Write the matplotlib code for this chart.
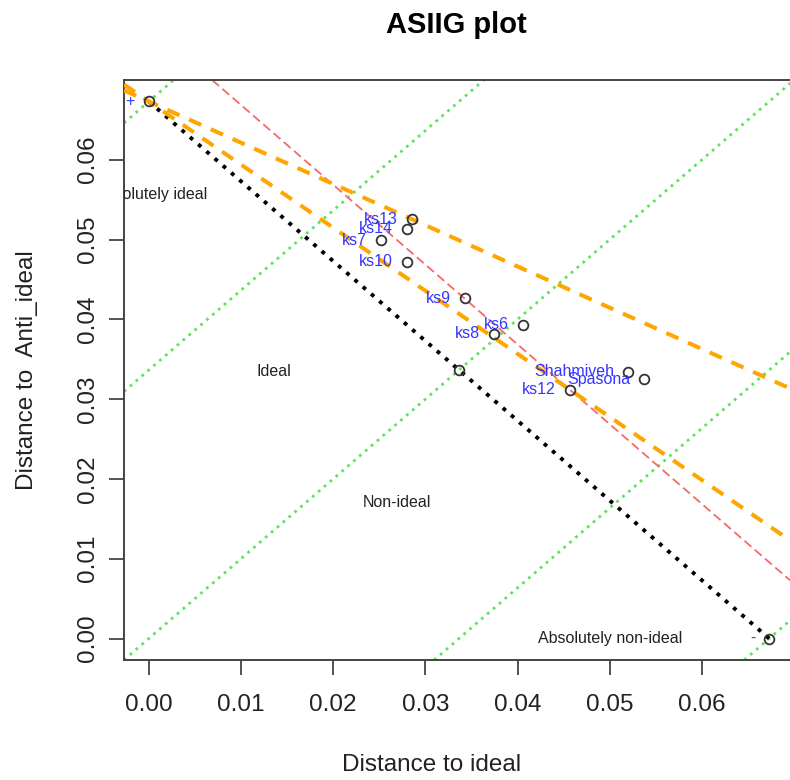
import matplotlib
matplotlib.use("Agg")
import matplotlib.pyplot as plt

plt.rcParams["font.family"] = ["Liberation Sans", "DejaVu Sans"]

# distance between the ideal and the anti-ideal point
full_dist = 0.0673

alternatives = ["ks13", "ks14", "ks7", "ks10", "ks9", "ks6", "ks8", "Shahmiveh", "Spasona", "ks12"]
dist_ideal = [0.02850, 0.02796, 0.02519, 0.02801, 0.03431, 0.04061, 0.03746, 0.05195, 0.05375, 0.04566]
dist_anti = [0.05257, 0.05132, 0.04994, 0.04724, 0.04267, 0.03929, 0.03822, 0.03340, 0.03252, 0.03120]

# reference points: ideal (+), anti-ideal (-) and the centre of the diagonal
ref_labels = ["+", "-", ""]
ref_x = [0.0, full_dist, full_dist / 2]
ref_y = [full_dist, 0.0, full_dist / 2]

region_labels = ["Absolutely ideal", "Ideal", "Non-ideal", "Absolutely non-ideal"]
region_x = [0.0003, 0.01357, 0.02693, 0.05005]
region_y = [0.0557, 0.0334, 0.0171, 0.0]

# green iso lines y = x + k * full_dist / 2
green_steps = [-2, -1, 0, 1, 2]

ticks = [0.00, 0.01, 0.02, 0.03, 0.04, 0.05, 0.06]

W, H = 790, 780
fig = plt.figure(figsize=(W / 100, H / 100), dpi=100)
ax = fig.add_axes([124 / W, 1 - 660 / H, 670 / W, 580 / H])

pad = 0.04 * full_dist
ax.set_xlim(-pad, full_dist + pad)
ax.set_ylim(-pad, full_dist + pad)

for k in green_steps:
    ax.axline((0, k * full_dist / 2), slope=1, color="#5fe35f", lw=2.0,
              linestyle=(0, (1, 1.8)), zorder=1)

ax.plot([0, full_dist], [full_dist, 0], color="black", lw=2.8,
        linestyle=(0, (1, 1.8)), zorder=2)

i12 = alternatives.index("ks12")
i13 = alternatives.index("ks13")
ax.axline((dist_ideal[i12], dist_anti[i12]), slope=-1, color="#f46a6a", lw=1.3,
          linestyle=(0, (5, 2.5)), zorder=2)
for i in (i13, i12):
    ax.axline((0, full_dist), (dist_ideal[i], dist_anti[i]), color="#ffa500", lw=2.9,
              linestyle=(0, (3.3, 2.6)), zorder=3)

ax.plot(dist_ideal + ref_x, dist_anti + ref_y, linestyle="none", marker="o", ms=7,
        mfc="none", mec="#333333", mew=1.3, zorder=4)

for name, x, y in zip(alternatives + ref_labels, dist_ideal + ref_x, dist_anti + ref_y):
    if name:
        ax.annotate(name, (x, y), xytext=(-10, 0), textcoords="offset points",
                    ha="right", va="center", fontsize=11.5, color="#3535ff", zorder=5)

for name, x, y in zip(region_labels, region_x, region_y):
    ax.text(x, y, name, ha="center", va="center", fontsize=11.5, color="#222222",
            clip_on=True, zorder=5)

ax.set_xticks(ticks)
ax.set_yticks(ticks)
ax.set_xticklabels([f"{t:.2f}" for t in ticks])
ax.set_yticklabels([f"{t:.2f}" for t in ticks], rotation=90, va="center")
ax.tick_params(length=10.8, width=1.3, color="#444444", labelsize=17.5,
               labelcolor="#222222")
ax.tick_params(axis="x", pad=14)
ax.tick_params(axis="y", pad=7)
for s in ax.spines.values():
    s.set_linewidth(1.4)
    s.set_color("#444444")

fig.text(456 / W, 1 - 25 / H, "ASIIG plot", ha="center", va="center",
         fontsize=21, fontweight="bold")
fig.text(432 / W, 1 - 765 / H, "Distance to ideal", ha="center", va="center",
         fontsize=17.5, color="#222222")
fig.text(27 / W, 1 - 370 / H, "Distance to  Anti_ideal", ha="center", va="center",
         rotation=90, fontsize=17.5, color="#222222")

fig.savefig("out.png", dpi=100)
